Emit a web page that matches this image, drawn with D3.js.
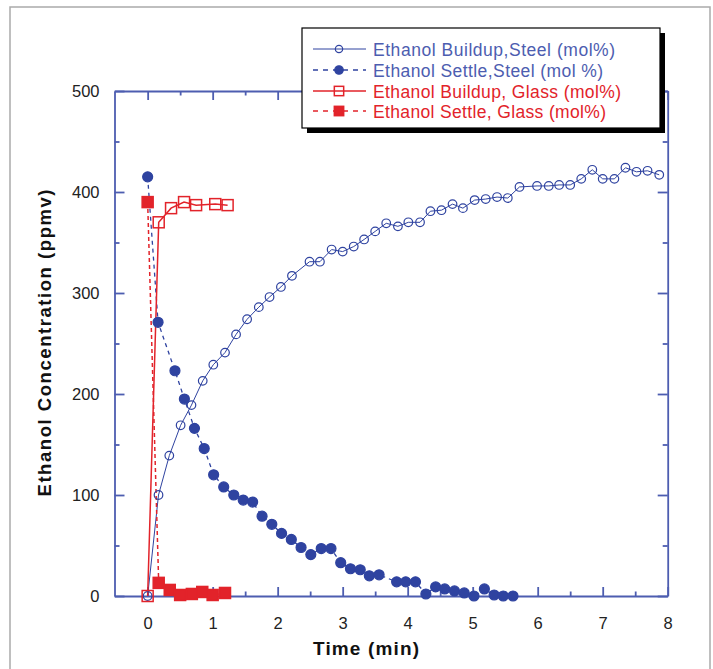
<!DOCTYPE html>
<html><head><meta charset="utf-8">
<script src="https://cdn.jsdelivr.net/npm/d3@7"></script>
<style>body{margin:0;background:#fff}svg{display:block}</style>
</head><body>
<svg id="c" width="713" height="669"></svg>
<script>
// ---- data ----
const steelBuildupX = [0,0.167,0.333,0.507,0.674,0.847,1.01,1.19,1.36,1.53,1.71,1.875,2.05,2.22,2.49,2.65,2.83,3.0,3.17,3.33,3.5,3.67,3.85,4.01,4.19,4.35,4.52,4.69,4.85,5.03,5.2,5.375,5.54,5.72,5.99,6.17,6.33,6.5,6.67,6.84,7.0,7.18,7.35,7.52,7.69,7.87];
const steelBuildupY = [0,100,139,169,189,213,229,241,259,274,286,296,306,317,331,331,343,341,346,353,361,369,366,370,370,381,382,388,384,392,393,395,394,405,406,406,407,407,413,422,413,413,424,420,421,417];
const steelSettleX = [0,0.16,0.42,0.565,0.72,0.87,1.015,1.17,1.325,1.47,1.615,1.76,1.91,2.06,2.21,2.36,2.51,2.67,2.82,2.97,3.12,3.27,3.41,3.56,3.83,3.97,4.12,4.28,4.43,4.57,4.72,4.87,5.02,5.18,5.33,5.47,5.62];
const steelSettleY = [415,271,223,195,166,146,120,108,100,95,93,79,71,62,56,48,41,47,47,33,27,26,20,21,14,14,14,2,9,7,5,3,0,7,1,0,0];
const glassBuildupX = [0,0.17,0.36,0.56,0.745,1.04,1.23];
const glassBuildupY = [0,370,384,390,387,388,387];
const glassSettleX = [0,0.17,0.34,0.5,0.68,0.84,1.0,1.19];
const glassSettleY = [390,13,6,1,2,4,1,3];
const xTicks = [0,1,2,3,4,5,6,7,8];
const xMinor = [0.5,1.5,2.5,3.5,4.5,5.5,6.5,7.5];
const yTicks = [0,100,200,300,400,500];
const yMinor = [50,150,250,350,450];
const legendLabels = ["Ethanol Buildup,Steel (mol%)","Ethanol Settle,Steel (mol %)","Ethanol Buildup, Glass (mol%)","Ethanol Settle, Glass (mol%)"];

const BLUE = "#2f43a0", AXIS = "#4d5db0", RED = "#e2232a";
const FONT = "'Liberation Sans', Arial, sans-serif";

const svg = d3.select("#c");
svg.append("rect").attr("x",10).attr("y",7).attr("width",700).attr("height",680)
  .attr("fill","none").attr("stroke","#aaa").attr("stroke-width",1.5);

const L=114.5, R=667.7, T=91, B=596;
const x = d3.scaleLinear().domain([-0.51,8]).range([L,R]);
const y = d3.scaleLinear().domain([0,500]).range([B,T]);

function styleAxis(g){
  g.selectAll("path,line").attr("stroke",AXIS).attr("stroke-width",1.8);
  g.selectAll("text").attr("fill","#222").attr("font-family",FONT).attr("font-size",16.5);
}
// bottom
svg.append("g").attr("transform",`translate(0,${B})`)
  .call(d3.axisBottom(x).tickValues(xTicks).tickFormat(d3.format("d")).tickSizeInner(-9).tickSizeOuter(0).tickPadding(21)).call(styleAxis);
svg.append("g").attr("transform",`translate(0,${B})`)
  .call(d3.axisBottom(x).tickValues(xMinor).tickFormat("").tickSizeInner(-4.5).tickSizeOuter(0)).call(styleAxis)
  .select(".domain").remove();
// top
svg.append("g").attr("transform",`translate(0,${T})`)
  .call(d3.axisTop(x).tickValues(xTicks).tickFormat("").tickSizeInner(-9).tickSizeOuter(0)).call(styleAxis);
svg.append("g").attr("transform",`translate(0,${T})`)
  .call(d3.axisTop(x).tickValues(xMinor).tickFormat("").tickSizeInner(-4.5).tickSizeOuter(0)).call(styleAxis)
  .select(".domain").remove();
// left
svg.append("g").attr("transform",`translate(${L},0)`)
  .call(d3.axisLeft(y).tickValues(yTicks).tickFormat(d3.format("d")).tickSizeInner(-10).tickSizeOuter(0).tickPadding(15)).call(styleAxis);
svg.append("g").attr("transform",`translate(${L},0)`)
  .call(d3.axisLeft(y).tickValues(yMinor).tickFormat("").tickSizeInner(-5).tickSizeOuter(0)).call(styleAxis)
  .select(".domain").remove();
// right
svg.append("g").attr("transform",`translate(${R},0)`)
  .call(d3.axisRight(y).tickValues(yTicks).tickFormat("").tickSizeInner(-10).tickSizeOuter(0)).call(styleAxis);
svg.append("g").attr("transform",`translate(${R},0)`)
  .call(d3.axisRight(y).tickValues(yMinor).tickFormat("").tickSizeInner(-5).tickSizeOuter(0)).call(styleAxis)
  .select(".domain").remove();

// axis titles
svg.append("text").attr("x",313).attr("y",655)
  .attr("font-family",FONT).attr("font-weight","bold").attr("font-size",19).attr("fill","#111")
  .attr("textLength",106).attr("lengthAdjust","spacing").text("Time (min)");
svg.append("text").attr("transform","translate(51,343) rotate(-90)").attr("text-anchor","middle")
  .attr("font-family",FONT).attr("font-weight","bold").attr("font-size",18.5).attr("fill","#111")
  .attr("textLength",307).attr("lengthAdjust","spacing").text("Ethanol Concentration (ppmv)");

const line = d3.line().x(d=>x(d[0])).y(d=>y(d[1]));
const zip = (a,b)=>a.map((v,i)=>[v,b[i]]);
const series = [
  {d:zip(steelBuildupX,steelBuildupY), c:BLUE, dash:null, w:1, m:"circle", fill:false},
  {d:zip(steelSettleX,steelSettleY), c:BLUE, dash:"4,4", w:1.3, m:"circle", fill:true},
  {d:zip(glassBuildupX,glassBuildupY), c:RED, dash:null, w:1.5, m:"square", fill:false},
  {d:zip(glassSettleX,glassSettleY), c:RED, dash:"4,3", w:1.5, m:"square", fill:true},
];
function marker(g, s, px, py, k){
  k = k||1;
  if(s.m==="circle"){
    const r = (s.fill?5:4.3)*k;
    g.append("circle").attr("cx",px).attr("cy",py).attr("r",r)
      .attr("fill",s.fill?s.c:"none").attr("stroke",s.c).attr("stroke-width",1.2);
  } else {
    const h = 5.5*k;
    g.append("rect").attr("x",px-h).attr("y",py-h).attr("width",2*h).attr("height",2*h)
      .attr("fill",s.fill?s.c:"none").attr("stroke",s.c).attr("stroke-width",1.5);
  }
}
const plot = svg.append("g");
series.forEach(s=>{
  plot.append("path").datum(s.d).attr("d",line).attr("fill","none").attr("stroke",s.c)
    .attr("stroke-width",s.w).attr("stroke-dasharray",s.dash);
});
series.forEach(s=>{
  const g = plot.append("g");
  s.d.forEach(p=>marker(g,s,x(p[0]),y(p[1])));
});

// legend
const lg = svg.append("g");
lg.append("rect").attr("x",307).attr("y",33).attr("width",358).attr("height",100).attr("fill","#000");
lg.append("rect").attr("x",302).attr("y",28).attr("width",358).attr("height",100).attr("fill","#fff").attr("stroke","#000").attr("stroke-width",1.2);
const rowsY = [49,70,91,111];
const legendW = [242,230,248,233];
series.forEach((s,i)=>{
  const ry = rowsY[i];
  lg.append("line").attr("x1",313).attr("x2",366).attr("y1",ry).attr("y2",ry)
    .attr("stroke",s.c).attr("stroke-width",s.w).attr("stroke-dasharray",s.dash?"5,5":null);
  marker(lg, s, 339, ry, 0.85);
  lg.append("text").attr("x",373).attr("y",ry+6.5).attr("font-family",FONT).attr("font-size",17.5)
    .attr("fill",i<2?"#4d5db0":RED).attr("textLength",legendW[i]).attr("lengthAdjust","spacing")
    .text(legendLabels[i]);
});
</script>
</body></html>
